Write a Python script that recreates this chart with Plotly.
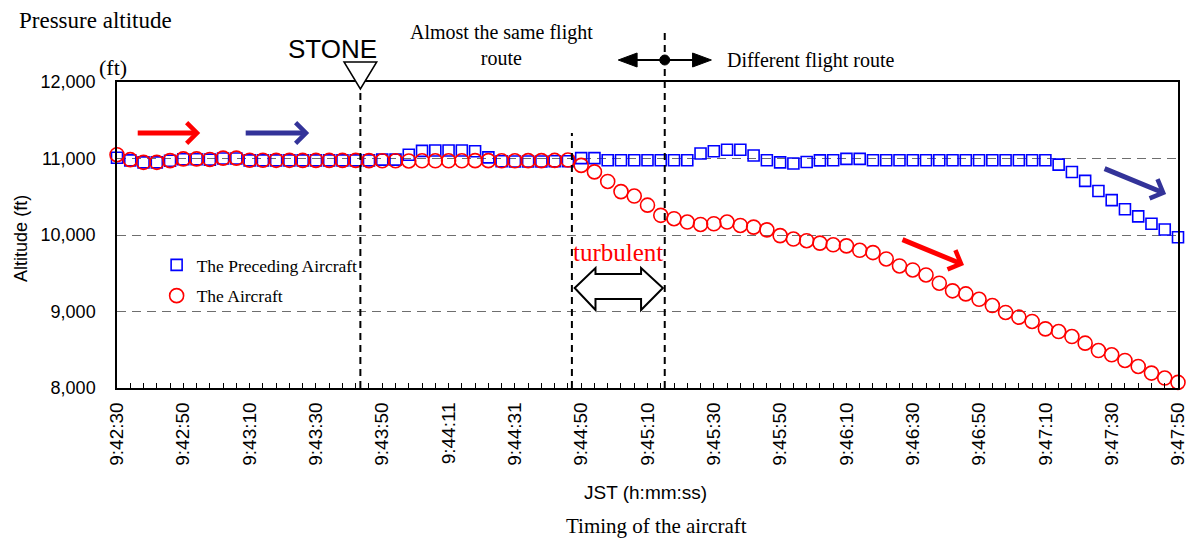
import plotly.graph_objects as go

# ---------------- data ----------------
tick_labels = ["9:42:30", "9:42:50", "9:43:10", "9:43:30", "9:43:50", "9:44:11",
               "9:44:31", "9:44:50", "9:45:10", "9:45:30", "9:45:50", "9:46:10",
               "9:46:30", "9:46:50", "9:47:10", "9:47:30", "9:47:50"]
label_every = 5

preceding_alt = [11010, 10975, 10950, 10950, 10970, 10990, 10990, 10985, 11000, 11000,
                 10975, 10975, 10975, 10975, 10975, 10975, 10975, 10975, 10975, 10975,
                 10985, 10985, 11050, 11100, 11105, 11105, 11105, 11095, 11015, 10965,
                 10960, 10960, 10960, 10965, 10965, 11005, 11005,
                 10978, 10978, 10978, 10978, 10978, 10978, 10978,
                 11065, 11095, 11115, 11115, 11040, 10978, 10950, 10935, 10955, 10975,
                 10978, 10995, 10995, 10978,
                 10978, 10978, 10978, 10978, 10978, 10978, 10978, 10978, 10978, 10978,
                 10978, 10978, 10978,
                 10920, 10823, 10708, 10575, 10456, 10337, 10244, 10147, 10072, 9970]

aircraft_alt = [11050, 10985, 10950, 10950, 10972, 10995, 10995, 10987, 11005, 11005,
                10978, 10978, 10976, 10976, 10975, 10975, 10975, 10975, 10975, 10972,
                10970, 10970, 10968, 10970, 10970, 10970, 10970, 10972, 10972, 10970,
                10970, 10972, 10972, 10975, 10980,
                10910, 10825, 10700, 10567, 10509, 10390, 10257, 10213, 10169, 10138,
                10147, 10169, 10125, 10103, 10067, 9992, 9947, 9925, 9894, 9872,
                9858, 9800, 9770, 9687, 9595, 9543, 9478, 9370, 9270, 9230,
                9160, 9078, 8987, 8926, 8870, 8773, 8738, 8673, 8586, 8490,
                8434, 8360, 8282, 8195, 8130, 8073]

# event positions (sample index)
stone_idx = 18.35
turb_start_idx = 34.3
route_change_idx = 41.3

n = len(aircraft_alt)
idx = list(range(n))
tickvals = idx
ticktext = [tick_labels[i // label_every] if i % label_every == 0 else "" for i in idx]

SERIF = "Liberation Serif"
SANS = "Liberation Sans"

# page geometry (the page body adds an 8px margin around the figure)
OFF = 8
PAGE_W, PAGE_H = 1198, 547
L, R, T, B = 117, 1188, 82, 388
W, H = PAGE_W - 2 * OFF, PAGE_H - 2 * OFF


def px(p):
    return (p - L) / (R - L)


def py(p):
    return (B - p) / (B - T)


def idx_px(i):
    return L + i * (R - L) / (n - 1)


fig = go.Figure()
fig.add_trace(go.Scatter(
    x=idx, y=preceding_alt, mode="markers", name="The Preceding Aircraft",
    marker=dict(symbol="square-open", size=11, color="#0000FF", line=dict(width=1.6)),
    cliponaxis=False, legendgroup="a"))
fig.add_trace(go.Scatter(
    x=idx, y=aircraft_alt, mode="markers", name="The Aircraft",
    marker=dict(symbol="circle-open", size=14, color="#FF0000", line=dict(width=1.6)),
    cliponaxis=False, legendgroup="b"))

shapes = []
dash = "7px,5px"
# vertical dashed event lines
shapes.append(dict(type="line", xref="x", yref="paper", x0=stone_idx, x1=stone_idx,
                   y0=0, y1=py(89), line=dict(color="black", width=2, dash=dash)))
shapes.append(dict(type="line", xref="x", yref="paper", x0=turb_start_idx, x1=turb_start_idx,
                   y0=0, y1=py(133), line=dict(color="black", width=2, dash=dash)))
shapes.append(dict(type="line", xref="x", yref="paper", x0=route_change_idx, x1=route_change_idx,
                   y0=0, y1=py(28), line=dict(color="black", width=2, dash=dash)))

# STONE triangle
sx = idx_px(stone_idx)
shapes.append(dict(type="path", xref="paper", yref="paper",
                   path=f"M{px(sx-16.5)},{py(62)} L{px(sx+16.5)},{py(62)} L{px(sx)},{py(89)} Z",
                   line=dict(color="black", width=1.5), fillcolor="white"))

# turbulent block double arrow
pts = [(579, 288), (600, 268), (600, 274), (646, 274), (646, 268), (668, 288),
       (646, 310), (646, 299), (600, 299), (600, 310)]
path = "M" + " L".join(f"{px(a)},{py(b)}" for a, b in pts) + " Z"
shapes.append(dict(type="path", xref="paper", yref="paper", path=path,
                   line=dict(color="black", width=2), fillcolor="white"))

# route-change double arrow with dot
rx = idx_px(route_change_idx)
ay = 60
shapes.append(dict(type="line", xref="paper", yref="paper", x0=px(638), x1=px(702),
                   y0=py(ay), y1=py(ay), line=dict(color="black", width=2)))
shapes.append(dict(type="path", xref="paper", yref="paper",
                   path=f"M{px(623)},{py(ay)} L{px(642)},{py(ay-7)} L{px(642)},{py(ay+7)} Z",
                   fillcolor="black", line=dict(color="black", width=1)))
shapes.append(dict(type="path", xref="paper", yref="paper",
                   path=f"M{px(717)},{py(ay)} L{px(698)},{py(ay-7)} L{px(698)},{py(ay+7)} Z",
                   fillcolor="black", line=dict(color="black", width=1)))
shapes.append(dict(type="circle", xref="paper", yref="paper",
                   x0=px(rx - 5), x1=px(rx + 5), y0=py(ay + 5), y1=py(ay - 5),
                   fillcolor="black", line=dict(color="black", width=1)))

annotations = []


def text(t, x, y, size, font=SERIF, color="black", xanchor="left", yanchor="middle", angle=0):
    annotations.append(dict(text=t, x=px(x), y=py(y), xref="paper", yref="paper",
                            showarrow=False, xanchor=xanchor, yanchor=yanchor,
                            textangle=angle, font=dict(family=font, size=size, color=color)))


text("Pressure altitude", 16, 20, 23)
text("(ft)", 97, 68, 22)
text("STONE", 335, 49, 26, font=SANS, xanchor="center")
text("Almost the same flight<br>route", 411, 45, 20)
text("Different flight route", 731, 60, 20)
text("turbulent", 623, 252, 25, color="#FF0000", xanchor="center")
text("JST (h:mm:ss)", 650, 492, 19, font=SANS, xanchor="center")
text("Timing of the aircraft", 662, 526, 21, xanchor="center")
text("Altitude (ft)", 20, 238, 18, font=SANS, xanchor="center", angle=-90)


def arrow(x0, y0, x1, y1, color, width=5, head=4, size=0.8):
    annotations.append(dict(text="", x=px(x1), y=py(y1), xref="paper", yref="paper",
                            ax=x0 - x1, ay=y0 - y1, showarrow=True, arrowhead=head,
                            arrowsize=size, arrowwidth=width, arrowcolor=color,
                            standoff=0, startstandoff=0))


arrow(137, 133, 201, 133, "#FF0000")
arrow(246, 133, 311, 133, "#333399")
arrow(1113, 168, 1176, 194, "#333399")
arrow(909, 239, 972, 265, "#FF0000")

fig.update_layout(
    width=W, height=H,
    margin=dict(l=L - OFF, r=W - (R - OFF), t=T - OFF, b=H - (B - OFF), pad=0),
    paper_bgcolor="white", plot_bgcolor="white",
    shapes=shapes, annotations=annotations,
    legend=dict(x=px(157), y=py(247), xanchor="left", yanchor="top",
                font=dict(family=SERIF, size=17.5, color="black"),
                bgcolor="rgba(0,0,0,0)", tracegroupgap=5, traceorder="grouped",
                itemsizing="trace"),
    xaxis=dict(range=[0, n - 1], tickmode="array", tickvals=tickvals, ticktext=ticktext,
               ticks="inside", ticklen=5, tickcolor="black", tickwidth=1,
               tickangle=-90, tickfont=dict(family=SANS, size=19, color="black"),
               ticklabelstandoff=5, ticklabeloverflow="allow",
               showline=True, mirror=True, linecolor="black", linewidth=1.5,
               showgrid=False, zeroline=False),
    yaxis=dict(range=[8000, 12000], dtick=1000, tickformat=",d",
               tickfont=dict(family=SANS, size=18, color="black"), ticks="",
               ticklabelstandoff=16,
               showline=True, mirror=True, linecolor="black", linewidth=1.5,
               showgrid=True, gridcolor="#6e6e6e", gridwidth=1.3, griddash="9px,6px",
               zeroline=False),
)

fig.write_html("out.html")
